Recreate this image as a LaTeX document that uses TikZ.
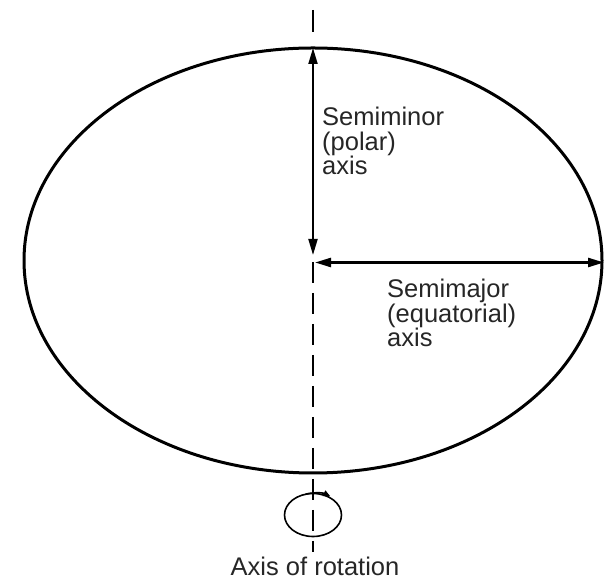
\documentclass[tikz,border=0pt]{standalone}
\usepackage{fontspec}
\setmainfont{Liberation Sans}
\usetikzlibrary{shapes.geometric,arrows.meta}
\begin{document}
\begin{tikzpicture}[x=1pt,y=1pt,
  lbl/.style={font=\fontsize{25.5}{24.8}\selectfont, text=black!85, inner sep=0pt, align=left},
  axisline/.style={line width=1.8pt, dash pattern=on 21pt off 10pt},
  meas/.style={line width=2pt, {Triangle[length=16pt,width=9pt]}-{Triangle[length=16pt,width=9pt]}},
]
\useasboundingbox (0,0) rectangle (604,580);
% spheroid
\node[ellipse, draw, line width=3pt, inner sep=0pt, outer sep=0pt,
      minimum width=578pt, minimum height=425pt] (earth) at (313,319.5) {};
% axis of rotation (dashed)
\coordinate (axtop) at (313,570);
\coordinate (axtopend) at (313,548);
\coordinate (axmid) at (313,318);
\coordinate (axbot) at (313,28);
\draw[line width=1.8pt] (axtop) -- (axtopend);
\draw[axisline] (axmid) -- (axbot);
% semiminor axis arrow
\coordinate (vbot) at (313,325);
\draw[meas] (vbot) -- (earth.north);
% semimajor axis arrow
\coordinate (hleft) at (315,317.5);
\coordinate (hright) at (604,317.5);
\draw[meas, line width=2.5pt] (hleft) -- (hright);
% rotation ellipse
\node[ellipse, draw, line width=1.6pt, inner sep=0pt, outer sep=0pt,
      minimum width=57pt, minimum height=43pt] (rot) at (313,65) {};
\draw[line width=1.6pt, -{Triangle[length=7pt,width=6pt]}] (rot.110) arc[start angle=110, end angle=58, x radius=28.5pt, y radius=21.5pt];
% labels
\node[lbl, anchor=base west] (minor) at (322,405) {Semiminor\\(polar)\\axis};
\node[lbl, anchor=base west] (major) at (387,233) {Semimajor\\(equatorial)\\axis};
\node[lbl, anchor=base] (rotlbl) at (315,5) {Axis of rotation};
\end{tikzpicture}
\end{document}
